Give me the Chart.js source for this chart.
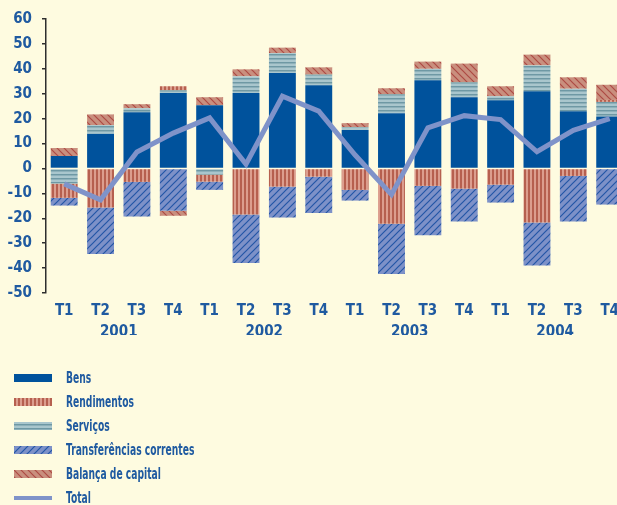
<!DOCTYPE html>
<html>
<head>
<meta charset="utf-8">
<script src="https://cdn.jsdelivr.net/npm/chart.js@4.4.0/dist/chart.umd.min.js"></script>
<style>
  html, body { margin: 0; padding: 0; background: #fefbe0; overflow: hidden; }
  #wrap { position: relative; width: 628px; height: 505px; }
  #legend .row { position: absolute; left: 14px; height: 24px; display: flex; align-items: center; }
  #legend .row canvas { display: block; margin-right: 14px; }
  #legend .row span { font: bold 15px "Liberation Sans Narrow", "DejaVu Sans Condensed", sans-serif; color: #1f5aa0; white-space: nowrap; display: inline-block; transform: scaleX(0.68); transform-origin: left center; }
</style>
</head>
<body>
<div id="wrap">
  <canvas id="chart" width="628" height="505"></canvas>
  <div id="legend"></div>
</div>
<script>
const quarters = ["T1", "T2", "T3", "T4", "T1", "T2", "T3", "T4", "T1", "T2", "T3", "T4", "T1", "T2", "T3", "T4"];
const years = ["2001", "2002", "2003", "2004"];

const bens = [5.0, 13.9, 22.6, 30.3, 25.4, 30.3, 38.3, 33.4, 15.4, 22.2, 35.4, 28.6, 27.4, 31.0, 23.0, 20.9];
const servicos = [-6.1, 3.5, 1.6, 1.1, -2.5, 6.7, 8.0, 4.3, 1.2, 7.6, 4.6, 6.0, 1.6, 10.4, 9.0, 5.8];
const rendimentos = [-5.7, -15.7, -5.4, 1.6, -2.8, -18.5, -7.3, -3.3, -8.6, -22.2, -7.0, -8.1, -6.5, -21.7, -3.0, 0.8];
const transferencias = [-3.1, -18.6, -13.9, -17.0, -3.3, -19.5, -12.4, -14.6, -4.3, -20.2, -19.8, -13.2, -7.2, -17.3, -18.3, -14.5];
const balanca = [3.2, 4.3, 1.6, -2.0, 3.2, 2.8, 2.2, 2.9, 1.6, 2.4, 2.9, 7.5, 4.0, 4.3, 4.6, 6.1];
const total = [-6.2, -12.6, 6.6, 14.2, 20.3, 1.7, 29.0, 23.0, 5.4, -10.5, 16.3, 21.2, 19.6, 6.7, 15.3, 20.0];

const textColor = "#1f5aa0";
const tickFont = { family: '"Liberation Sans Narrow", "DejaVu Sans Condensed", sans-serif', size: 15, weight: "bold" };

// motifs des barres
function makePattern(ctx, kind) {
    const c = document.createElement("canvas");
    const g = c.getContext("2d");
    if (kind === "rend") {
        c.width = 4; c.height = 4;
        g.fillStyle = "#dc9e8e"; g.fillRect(0, 0, 4, 4);
        g.fillStyle = "#b6604f"; g.fillRect(0, 0, 2, 4);
    } else if (kind === "serv") {
        c.width = 4; c.height = 4;
        g.fillStyle = "#a9c6cd"; g.fillRect(0, 0, 4, 4);
        g.fillStyle = "#6e98a4"; g.fillRect(0, 2, 4, 1);
        g.fillStyle = "#8db0b9"; g.fillRect(0, 3, 4, 1);
    } else {
        c.width = 7; c.height = 7;
        g.fillStyle = kind === "transf" ? "#7d91c8" : "#c98f7e";
        g.fillRect(0, 0, 7, 7);
        g.strokeStyle = kind === "transf" ? "#2456a6" : "#ad4a44";
        g.lineWidth = 1.2;
        g.beginPath();
        if (kind === "transf") {
            g.moveTo(-1, 8); g.lineTo(8, -1);
            g.moveTo(-1, 1); g.lineTo(1, -1);
            g.moveTo(6, 8); g.lineTo(8, 6);
        } else {
            g.moveTo(-1, -1); g.lineTo(8, 8);
            g.moveTo(6, -1); g.lineTo(8, 1);
            g.moveTo(-1, 6); g.lineTo(1, 8);
        }
        g.stroke();
    }
    return ctx.createPattern(c, "repeat");
}

const canvas = document.getElementById("chart");
const ctx = canvas.getContext("2d");

const chart = new Chart(canvas, {
    data: {
        labels: quarters,
        datasets: [
            { type: "bar", label: "Bens", data: bens, backgroundColor: "#00529c", stack: "bars" },
            { type: "bar", label: "Serviços", data: servicos, backgroundColor: makePattern(ctx, "serv"), stack: "bars" },
            { type: "bar", label: "Rendimentos", data: rendimentos, backgroundColor: makePattern(ctx, "rend"), stack: "bars" },
            { type: "bar", label: "Transferências correntes", data: transferencias, backgroundColor: makePattern(ctx, "transf"), stack: "bars" },
            { type: "bar", label: "Balança de capital", data: balanca, backgroundColor: makePattern(ctx, "bal"), stack: "bars" },
            { type: "line", label: "Total", data: total, borderColor: "#7f93c9", borderWidth: 5, pointRadius: 0, tension: 0, stack: "line", order: -1 }
        ]
    },
    options: {
        responsive: false,
        animation: false,
        layout: { padding: { top: 8, right: 0, bottom: 170, left: 0 } },
        datasets: { bar: { barPercentage: 0.74, categoryPercentage: 1 } },
        plugins: { legend: { display: false }, tooltip: { enabled: false } },
        scales: {
            x: {
                stacked: true,
                grid: { display: false, drawTicks: false },
                border: { display: false },
                ticks: { color: textColor, font: tickFont, padding: 9, maxRotation: 0, autoSkip: false },
                afterFit: (s) => { s.height = 22; }
            },
            x2: {
                type: "category",
                labels: years,
                position: "bottom",
                offset: true,
                grid: { display: false, drawTicks: false },
                border: { display: false },
                ticks: { color: textColor, font: tickFont, padding: 8, maxRotation: 0 },
                afterFit: (s) => { s.height = 20; }
            },
            y: {
                stacked: true,
                min: -50,
                max: 60,
                grid: { drawOnChartArea: false, drawTicks: true, tickLength: 4, color: "#2e2e2e", lineWidth: 1.5 },
                border: { display: true, color: "#2e2e2e", width: 1.5 },
                ticks: { stepSize: 10, color: textColor, font: tickFont, padding: 10 },
                afterFit: (s) => { s.width = 46; }
            }
        }
    }
});

// légende verticale
const legendItems = [
    { label: "Bens", kind: "bens", h: 8 },
    { label: "Rendimentos", kind: "rend", h: 8 },
    { label: "Serviços", kind: "serv", h: 8 },
    { label: "Transferências correntes", kind: "transf", h: 8 },
    { label: "Balança de capital", kind: "bal", h: 8 },
    { label: "Total", kind: "total", h: 4 }
];
const legend = document.getElementById("legend");
legendItems.forEach((item, i) => {
    const row = document.createElement("div");
    row.className = "row";
    row.style.top = (366 + i * 24) + "px";
    const sw = document.createElement("canvas");
    sw.width = 38; sw.height = item.h;
    const g = sw.getContext("2d");
    if (item.kind === "bens") g.fillStyle = "#00529c";
    else if (item.kind === "total") g.fillStyle = "#7f93c9";
    else g.fillStyle = makePattern(g, item.kind);
    g.fillRect(0, 0, 38, item.h);
    const txt = document.createElement("span");
    txt.textContent = item.label;
    row.appendChild(sw);
    row.appendChild(txt);
    legend.appendChild(row);
});
</script>
</body>
</html>
